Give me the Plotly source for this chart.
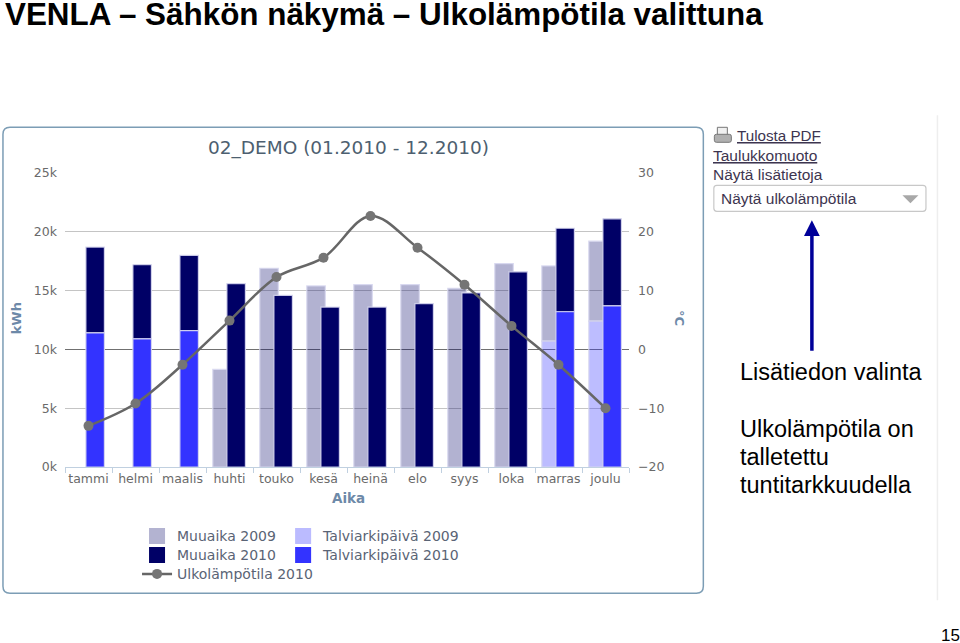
import plotly.graph_objects as go

# Kuukaudet ja sarjat (kWh ja astetta)
months = ['tammi', 'helmi', 'maalis', 'huhti', 'touko', 'kesä', 'heinä', 'elo', 'syys', 'loka', 'marras', 'joulu']
talvi_2009 = [None, None, None, None, None, None, None, None, None, None, 10700, 12400]
muu_2009 = [None, None, None, 8300, 16900, 15400, 15500, 15500, 15200, 17300, 6400, 6800]
talvi_2010 = [11400, 10900, 11600, None, None, None, None, None, None, None, 13200, 13700]
muu_2010 = [7300, 6300, 6400, 15600, 14600, 13600, 13600, 13900, 14800, 16600, 7100, 7400]
temp_2010 = [-13.0, -9.2, -2.6, 4.9, 12.3, 15.6, 22.7, 17.3, 11.0, 4.0, -2.6, -10.0]
kwh_ticks = [0, 5000, 10000, 15000, 20000, 25000]
kwh_labels = ['0k', '5k', '10k', '15k', '20k', '25k']
temp_ticks = [-20, -10, 0, 10, 20, 30]

# Plot area in pixels
L, R, T, B = 65, 628.7, 172.7, 466.7
W, H = 960, 643
CHART_FONT = 'DejaVu Sans'
PAGE_FONT = 'Liberation Sans'


def px(x):
    return (x - L) / (R - L)


def py(y):
    return (B - y) / (B - T)


def round_box(x0, y0, x1, y1, r):
    return (f'M{px(x0 + r)},{py(y0)} L{px(x1 - r)},{py(y0)} Q{px(x1)},{py(y0)} {px(x1)},{py(y0 + r)} '
            f'L{px(x1)},{py(y1 - r)} Q{px(x1)},{py(y1)} {px(x1 - r)},{py(y1)} '
            f'L{px(x0 + r)},{py(y1)} Q{px(x0)},{py(y1)} {px(x0)},{py(y1 - r)} '
            f'L{px(x0)},{py(y0 + r)} Q{px(x0)},{py(y0)} {px(x0 + r)},{py(y0)} Z')


def label(x, y, text, size, color, font=PAGE_FONT, anchor='left', angle=0):
    # annotations have about 2px of padding on the left
    if anchor == 'left':
        x -= 2
    return dict(xref='paper', yref='paper', x=px(x), y=py(y), text=text, showarrow=False,
                xanchor=anchor, yanchor='middle', textangle=angle,
                font=dict(family=font, size=size, color=color))


fig = go.Figure()

bar_width = 18.5 / 47
edge = dict(color='rgba(215,215,240,0.9)', width=1.2)
bars = [
    ('Muuaika 2009', muu_2009, talvi_2009, 'rgba(0,0,102,0.30)', -16.7 / 47),
    ('Talviarkipäivä 2009', talvi_2009, None, 'rgba(51,51,255,0.32)', -16.7 / 47),
    ('Muuaika 2010', muu_2010, talvi_2010, '#000066', -2.6 / 47),
    ('Talviarkipäivä 2010', talvi_2010, None, '#3333FF', -2.6 / 47),
]
for name, values, under, color, offset in bars:
    base = [u or 0 for u in under] if under else None
    fig.add_trace(go.Bar(x=months, y=values, base=base, name=name, width=bar_width, offset=offset,
                         marker=dict(color=color, line=edge), showlegend=False))

fig.add_trace(go.Scatter(x=months, y=temp_2010, yaxis='y2', name='Ulkolämpötila 2010', mode='lines+markers',
                         line=dict(color='#666666', width=2.5, shape='spline', smoothing=1),
                         marker=dict(color='#757575', size=10), cliponaxis=False, showlegend=False))

legend_font = dict(family=CHART_FONT, size=14, color='#5A6475')
# one legend per entry: plotly's own row height is too tall at this font size
entries = [
    ('Muuaika 2009', '#B3B3D1', 137, 520),
    ('Talviarkipäivä 2009', '#BBBBFF', 283, 520),
    ('Muuaika 2010', '#000066', 137, 539),
    ('Talviarkipäivä 2010', '#3333FF', 283, 539),
    ('Ulkolämpötila 2010', None, 137, 558),
]
legends = {}
for i, (name, color, lx, ly) in enumerate(entries):
    key = 'legend' if i == 0 else f'legend{i + 1}'
    legends[key] = dict(x=px(lx), y=py(ly), xanchor='left', yanchor='top', font=legend_font,
                        bgcolor='rgba(0,0,0,0)')
    if color:
        fig.add_trace(go.Scatter(x=[None], y=[None], name=name, mode='markers', legend=key,
                                 marker=dict(symbol='square', size=16, color=color)))
    else:
        fig.add_trace(go.Scatter(x=[None], y=[None], name=name, mode='lines+markers', legend=key,
                                 line=dict(color='#666666', width=2.5), marker=dict(color='#757575', size=10)))

shapes = [
    dict(type='path', xref='paper', yref='paper', path=round_box(3, 127, 703, 593, 7),
         line=dict(color='#7C9DB5', width=1.5), layer='below'),
    dict(type='line', xref='paper', yref='paper', x0=px(937), x1=px(937), y0=py(115), y1=py(600),
         line=dict(color='#EEEEEE', width=1.5)),
    dict(type='path', xref='paper', yref='paper', path=round_box(713.5, 185, 925.5, 211, 3),
         line=dict(color='#C8C8C8', width=1.2), fillcolor='white'),
    dict(type='path', xref='paper', yref='paper',
         path=f'M{px(902)},{py(195)} L{px(918)},{py(195)} L{px(910)},{py(203)} Z',
         line=dict(width=0), fillcolor='#A8A8A8'),
    # tulostimen kuvake
    dict(type='rect', xref='paper', yref='paper', x0=px(717), x1=px(727), y0=py(127), y1=py(136),
         line=dict(color='#777777', width=1), fillcolor='#F0F0F0'),
    dict(type='path', xref='paper', yref='paper', path=round_box(714, 134, 731, 142, 2),
         line=dict(color='#777777', width=1), fillcolor='#B0B0B0'),
]

annotations = [
    label(5, 14, '<b>VENLA – Sähkön näkymä – Ulkolämpötila valittuna</b>', 31.4, '#000000'),
    label(348, 148, '02_DEMO (01.2010 - 12.2010)', 18.5, '#4D5F70', CHART_FONT, 'center'),
    label(16, 318, '<b>kWh</b>', 13, '#6D89A8', CHART_FONT, 'center', -90),
    label(679, 318, '<b>°C</b>', 13, '#6D89A8', CHART_FONT, 'center', 90),
    label(348, 498, '<b>Aika</b>', 13.5, '#6D89A8', CHART_FONT, 'center'),
    label(737, 135, '<u>Tulosta PDF</u>', 15.2, '#3D3550'),
    label(713, 155, '<u>Taulukkomuoto</u>', 15.5, '#3D3550'),
    label(713, 174, 'Näytä lisätietoja', 15.5, '#3D3550'),
    label(721, 198, 'Näytä ulkolämpötila', 15.5, '#3D3550'),
    label(740, 372, 'Lisätiedon valinta', 23.5, '#000000'),
    label(740, 429, 'Ulkolämpötila on', 23.5, '#000000'),
    label(740, 457, 'talletettu', 23.5, '#000000'),
    label(740, 485, 'tuntitarkkuudella', 23.5, '#000000'),
    label(941, 635, '15', 17, '#000000'),
    dict(xref='paper', yref='paper', x=px(811.5), y=py(220), ax=0, ay=132, text='', showarrow=True,
         arrowhead=2, arrowsize=0.9, arrowwidth=3.5, arrowcolor='#000099'),
]

fig.update_layout(
    width=W, height=H, autosize=False,
    margin=dict(l=L, r=W - R, t=T, b=H - B),
    paper_bgcolor='white', plot_bgcolor='white',
    barmode='overlay', showlegend=True,
    font=dict(family=CHART_FONT, size=12.5, color='#666666'),
    xaxis=dict(type='category', range=[-0.5, 11.5], tickson='boundaries', ticks='outside', ticklen=5,
               tickangle=0, tickcolor='#C0D0E0', linecolor='#C0D0E0', showline=True, showgrid=False,
               tickfont=dict(size=12.5, color='#6A6A6A')),
    yaxis=dict(range=[0, 25000], tickvals=kwh_ticks, ticktext=kwh_labels, gridcolor='#C4C4C4', gridwidth=1,
               zeroline=False, ticks='', ticklabelstandoff=7, tickfont=dict(size=12.5, color='#6A6A6A')),
    yaxis2=dict(range=[-20, 30], tickvals=temp_ticks, overlaying='y', side='right', showgrid=False,
                zeroline=True, zerolinecolor='#707070', zerolinewidth=1, ticks='', ticklabelstandoff=8,
                tickfont=dict(size=12.5, color='#6A6A6A')),
    shapes=shapes, annotations=annotations,
    **legends,
)

# page margin would push the 960x643 figure out of the window
fig.write_html("out.html", config=dict(displayModeBar=False),
               post_script="document.body.style.margin='0';document.body.style.overflow='hidden';")
